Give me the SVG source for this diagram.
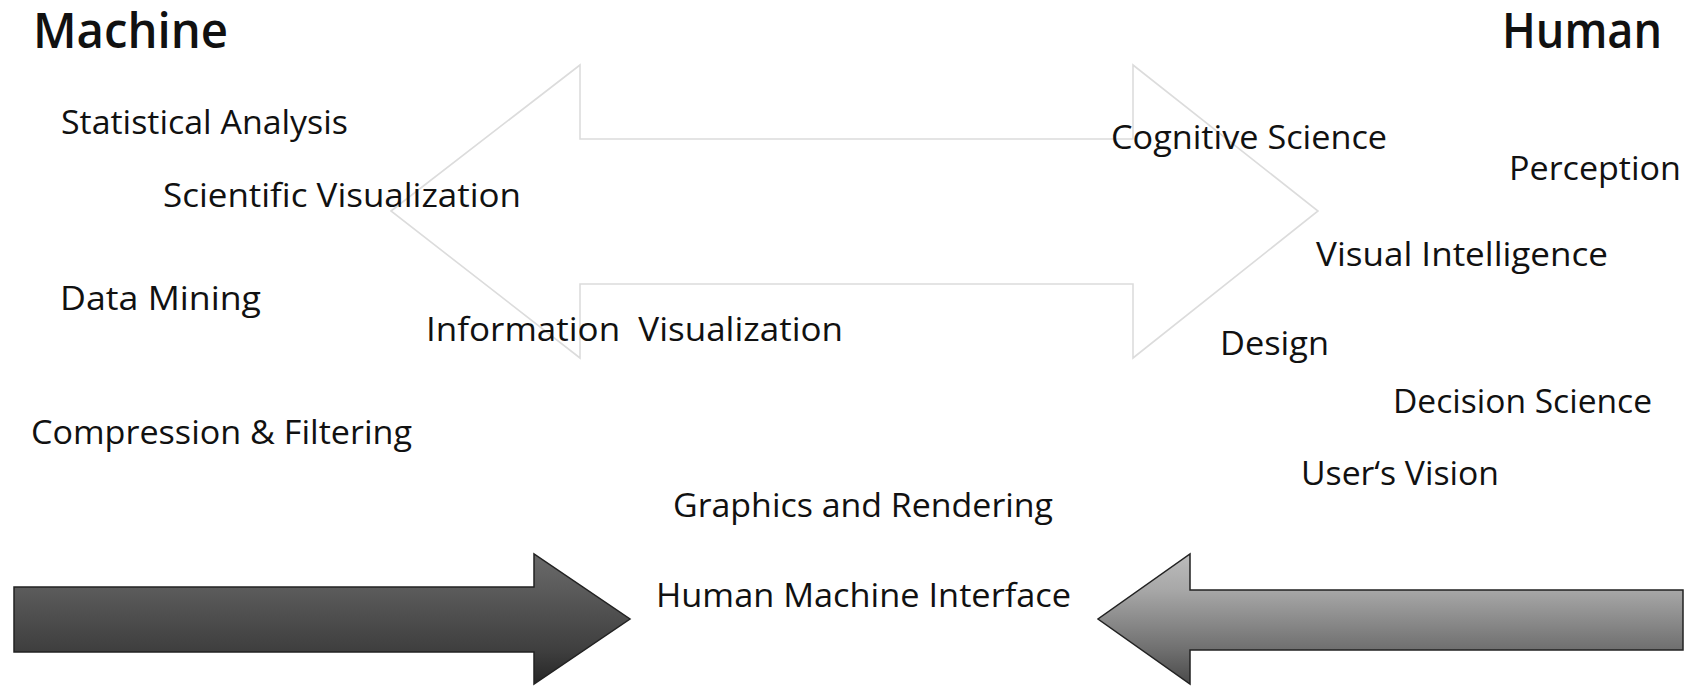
<svg xmlns="http://www.w3.org/2000/svg" width="1700" height="686" viewBox="0 0 1700 686">
  <style>
    .t { font-family: "Open Sans", "Noto Sans", "Liberation Sans", sans-serif; font-size: 32px; fill: #111; }
    .h { font-family: "Open Sans", "Noto Sans", "Liberation Sans", sans-serif; font-size: 48px; font-weight: 600; fill: #111; }
    .outline { fill: #fff; stroke: #dcdcdc; stroke-width: 1.6; stroke-linejoin: miter; }
    .dark { fill: url(#gDark); stroke: #222; stroke-width: 1.5; }
    .light { fill: url(#gLight); stroke: #222; stroke-width: 1.5; }
  </style>
  <defs>
    <linearGradient id="gDark" x1="0" y1="0" x2="0" y2="1">
      <stop offset="0" stop-color="#6a6a6a"/>
      <stop offset="0.25" stop-color="#5c5c5c"/>
      <stop offset="0.75" stop-color="#3e3e3e"/>
      <stop offset="1" stop-color="#262626"/>
    </linearGradient>
    <linearGradient id="gLight" x1="0" y1="0" x2="0" y2="1">
      <stop offset="0" stop-color="#bcbcbc"/>
      <stop offset="0.27" stop-color="#a8a8a8"/>
      <stop offset="0.73" stop-color="#707070"/>
      <stop offset="1" stop-color="#4a4a4a"/>
    </linearGradient>
  </defs>
  <rect width="1700" height="686" fill="#fff"/>

  <g id="arrows">
    <polygon id="double-arrow" class="outline" points="391,211 580,65 580,139 1133,139 1133,65 1318,211 1133,358 1133,284 580,284 580,358"/>
    <polygon id="machine-arrow" class="dark" points="14,587 534,587 534,554 630,619 534,684 534,652 14,652"/>
    <polygon id="human-arrow" class="light" points="1683,590 1190,590 1190,554 1098,619 1190,684 1190,650 1683,650"/>
  </g>

  <g id="machine"><text class="h" x="33" y="48" textLength="195" lengthAdjust="spacingAndGlyphs">Machine</text></g>
  <g id="human"><text class="h" x="1502" y="48" textLength="160" lengthAdjust="spacingAndGlyphs">Human</text></g>

  <g id="statistical-analysis"><text class="t" x="61" y="134" textLength="287" lengthAdjust="spacingAndGlyphs">Statistical Analysis</text></g>
  <g id="scientific-visualization"><text class="t" x="163" y="207" textLength="358" lengthAdjust="spacingAndGlyphs">Scientific Visualization</text></g>
  <g id="data-mining"><text class="t" x="60" y="310" textLength="201" lengthAdjust="spacingAndGlyphs">Data Mining</text></g>
  <g id="compression-filtering"><text class="t" x="31" y="444" textLength="381" lengthAdjust="spacingAndGlyphs">Compression &amp; Filtering</text></g>
  <g id="information-visualization"><text class="t" x="426" y="341" textLength="417" lengthAdjust="spacingAndGlyphs" xml:space="preserve">Information  Visualization</text></g>
  <g id="graphics-rendering"><text class="t" x="673" y="517" textLength="380" lengthAdjust="spacingAndGlyphs">Graphics and Rendering</text></g>
  <g id="human-machine-interface"><text class="t" x="656" y="607" textLength="415" lengthAdjust="spacingAndGlyphs">Human Machine Interface</text></g>

  <g id="cognitive-science"><text class="t" x="1111" y="149" textLength="276" lengthAdjust="spacingAndGlyphs">Cognitive Science</text></g>
  <g id="perception"><text class="t" x="1509" y="180" textLength="172" lengthAdjust="spacingAndGlyphs">Perception</text></g>
  <g id="visual-intelligence"><text class="t" x="1316" y="266" textLength="292" lengthAdjust="spacingAndGlyphs">Visual Intelligence</text></g>
  <g id="design"><text class="t" x="1220" y="355" textLength="109" lengthAdjust="spacingAndGlyphs">Design</text></g>
  <g id="decision-science"><text class="t" x="1393" y="413" textLength="259" lengthAdjust="spacingAndGlyphs">Decision Science</text></g>
  <g id="users-vision"><text class="t" x="1301" y="485" textLength="198" lengthAdjust="spacingAndGlyphs">User‘s Vision</text></g>
</svg>
